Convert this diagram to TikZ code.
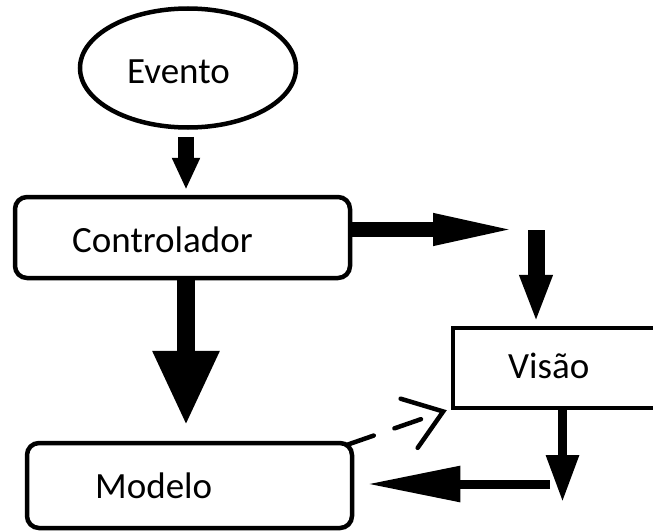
\documentclass[tikz,border=0pt]{standalone}
\usepackage{fontspec}
\setmainfont{Carlito}
\usetikzlibrary{arrows.meta,shapes.geometric}
\begin{document}
\begin{tikzpicture}[x=1pt,y=-1pt,
  lw/.style={line width=4.5pt},
  box/.style={draw,lw,rounded corners=12pt,inner sep=0pt},
  lbl/.style={font=\fontsize{37}{44}\selectfont,inner sep=0pt,anchor=base west},
  blk/.style={line width=#1}]
\useasboundingbox[fill=white] (0,0) rectangle (653,530);
% shapes
\node[draw,lw,ellipse,minimum width=216pt,minimum height=119pt,inner sep=0pt] (evento) at (188,68) {};
\node[box,minimum width=335pt,minimum height=81pt] (ctrl) at (182.5,237.5) {};
\node[box,minimum width=325pt,minimum height=85pt] (modelo) at (189.5,485.5) {};
\node[minimum width=200pt,minimum height=80pt,inner sep=0pt] (visao) at (553,368) {};
\draw[lw] ([xshift=6pt]visao.north east) -- (visao.north west) -- (visao.south west) -- ([xshift=6pt]visao.south east);
% labels
\node[lbl] (eventolbl) at (127,83) {Evento};
\node[lbl] (ctrllbl) at (72,252) {Controlador};
\node[lbl] (modelolbl) at (95,498) {Modelo};
\node[lbl] (visaolbl) at (508,378) {Visão};
% helper coordinates
\coordinate (turnA) at (522,229.5);
\coordinate (turnB) at (536,230);
\coordinate (cornerC) at (562.5,502);
\coordinate (cornerD) at (550,484);
% arrows
\draw[blk=16pt,-{Triangle[width=26pt,length=32pt]}] ([xshift=-2pt,yshift=-7pt]evento.south) -- ([xshift=3.5pt,yshift=5pt]ctrl.north);
\draw[blk=18pt,-{Triangle[width=62pt,length=75pt]}] ([xshift=3.5pt]ctrl.south) -- ([xshift=-3.5pt,yshift=15pt]modelo.north);
\draw[blk=15pt,-{Triangle[width=28pt,length=89pt]}] ([yshift=8pt]ctrl.east) -- (turnA);
\draw[blk=17pt,-{Triangle[width=30pt,length=48pt]}] (turnB) -- ([xshift=-17pt,yshift=5pt]visao.north);
\draw[blk=9pt,-{Triangle[width=31pt,length=47pt]}] ([xshift=9.5pt]visao.south) -- (cornerC);
\draw[blk=9pt,-{Triangle[width=34pt,length=93pt]}] (cornerD) -- ([xshift=13pt,yshift=1.5pt]modelo.east);
\draw[lw,line cap=round,dash pattern=on 28pt off 22pt,-{Straight Barb[length=36pt,width=52pt,line cap=round]}] ([xshift=-7pt,yshift=-4pt]modelo.north east) -- ([xshift=-6pt,yshift=-2pt]visao.south west);
\end{tikzpicture}
\end{document}
